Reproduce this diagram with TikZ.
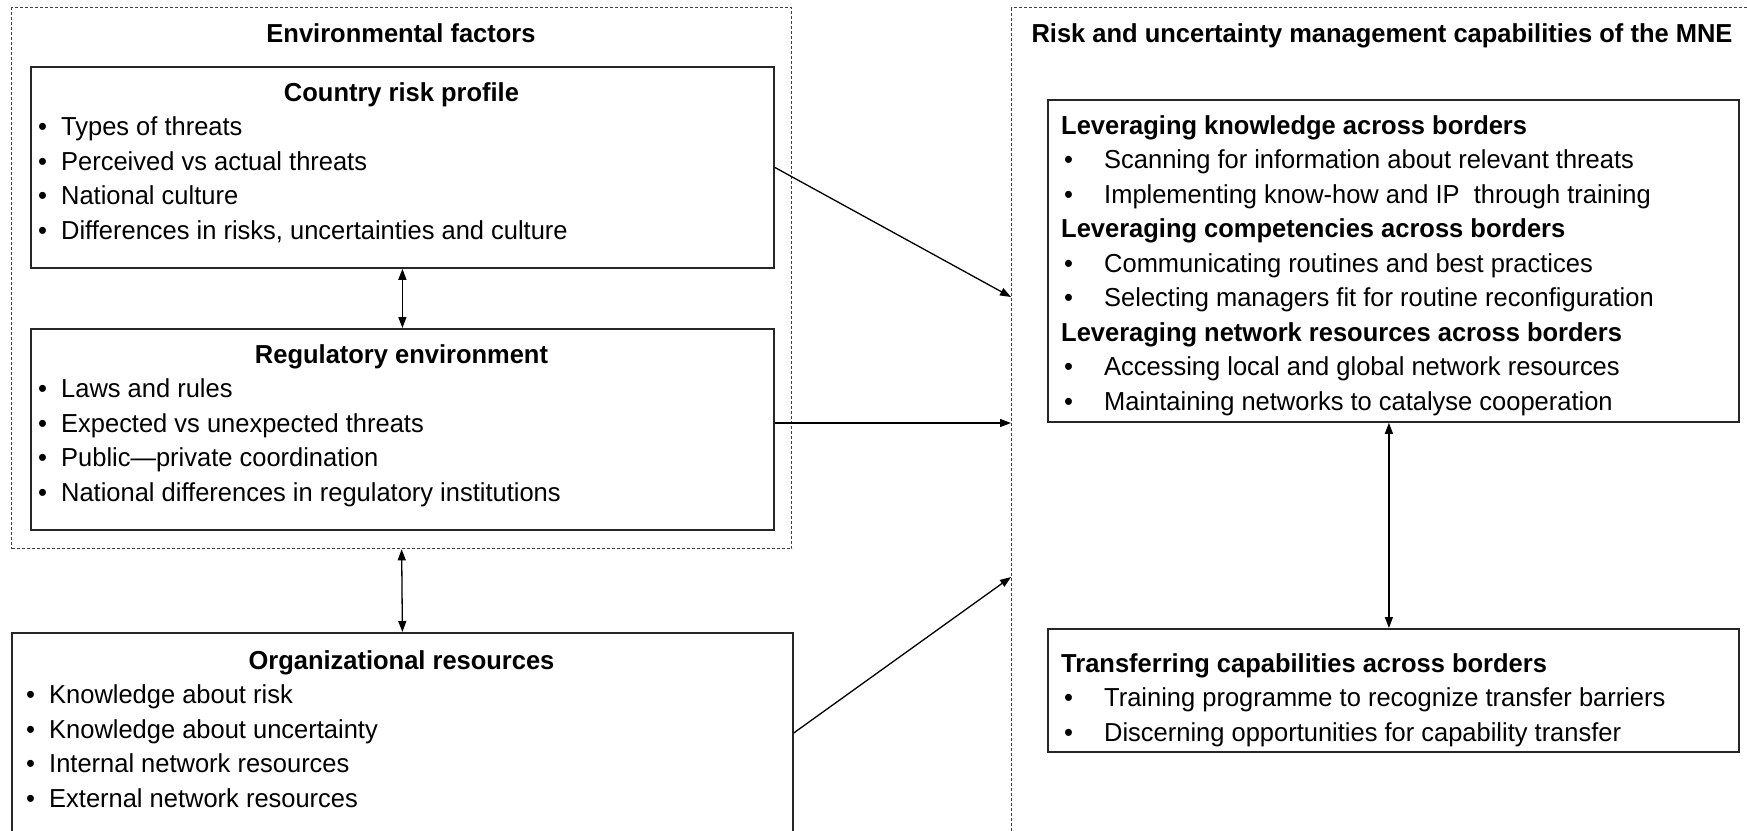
\documentclass[tikz,border=0pt]{standalone}
\usepackage{fontspec}
\setmainfont{Liberation Sans}[FakeStretch=0.98]
\usetikzlibrary{arrows.meta}

\newcommand{\maat}{\fontsize{26}{34}\selectfont}
\newcommand{\punt}[2]{\makebox[#1][l]{\textbullet}#2}

\tikzset{
  groep/.style={draw=black!75, line width=1.3pt, dash pattern=on 3pt off 2pt,
    anchor=north west, inner sep=0pt},
  kader/.style={draw=black!85, line width=1.8pt, anchor=north west, inner sep=0pt},
  kop/.style={font=\maat\bfseries, anchor=base, inner sep=0pt},
  kopl/.style={font=\maat\bfseries, anchor=base west, inner sep=0pt},
  regel/.style={font=\maat, anchor=base west, inner sep=0pt},
  pijl/.style={line width=1.3pt, -{Triangle[length=11pt,width=8pt]}},
  tweepijl/.style={line width=1.3pt,
    {Triangle[length=11pt,width=8pt]}-{Triangle[length=11pt,width=8pt]}}
}

\begin{document}
\begin{tikzpicture}[x=1pt, y=-1pt]
  \useasboundingbox (0,0) rectangle (1747,830);

  % Groepen (gestippeld)
  \node[groep, minimum width=780pt, minimum height=541pt] (env) at (11,7) {};
  \node[groep, minimum width=741pt, minimum height=838pt] (mne) at (1011,7) {};
  \node[kop] (envkop) at (401,42) {Environmental factors};
  \node[kop] (mnekop) at (1382,42) {Risk and uncertainty management capabilities of the MNE};

  % Kaders links
  \node[kader, minimum width=743pt, minimum height=201pt] (country) at (30,66) {};
  \node[kader, minimum width=743pt, minimum height=201pt] (reg) at (30,328) {};
  \node[kader, minimum width=781pt, minimum height=200pt] (org) at (11,632) {};

  \node[kop] (countrykop) at (401.5,101) {Country risk profile};
  \foreach \t [count=\i] in {Types of threats, Perceived vs actual threats,
      National culture, {Differences in risks, uncertainties and culture}}
    \node[regel] (country\i) at (38,101+34.5*\i) {\punt{23pt}{\t}};

  \node[kop] (regkop) at (401.5,363) {Regulatory environment};
  \foreach \t [count=\i] in {Laws and rules, Expected vs unexpected threats,
      Public—private coordination, National differences in regulatory institutions}
    \node[regel] (reg\i) at (38,363+34.5*\i) {\punt{23pt}{\t}};

  \node[kop] (orgkop) at (401.5,669) {Organizational resources};
  \foreach \t [count=\i] in {Knowledge about risk, Knowledge about uncertainty,
      Internal network resources, External network resources}
    \node[regel] (org\i) at (26,669+34.5*\i) {\punt{23pt}{\t}};

  % Kaders rechts
  \node[kader, minimum width=691pt, minimum height=322pt] (lev) at (1047,99) {};
  \node[kader, minimum width=691pt, minimum height=123pt] (trans) at (1047,628) {};

  \node[kopl] (levkop1) at (1061,134) {Leveraging knowledge across borders};
  \node[kopl] (levkop2) at (1061,237.5) {Leveraging competencies across borders};
  \node[kopl] (levkop3) at (1061,341) {Leveraging network resources across borders};
  \foreach \y/\t [count=\i] in {168.5/Scanning for information about relevant threats,
      203/{Implementing know-how and IP\ \ through training},
      272/Communicating routines and best practices,
      306.5/Selecting managers fit for routine reconfiguration,
      375.5/Accessing local and global network resources,
      410/Maintaining networks to catalyse cooperation}
    \node[regel] (lev\i) at (1064,\y) {\punt{40pt}{\t}};

  \node[kopl] (transkop) at (1061,672) {Transferring capabilities across borders};
  \foreach \t [count=\i] in {Training programme to recognize transfer barriers,
      Discerning opportunities for capability transfer}
    \node[regel] (trans\i) at (1064,672+34.5*\i) {\punt{40pt}{\t}};

  % Pijlen
  \coordinate (in1) at (1011,297);
  \coordinate (in2) at (1011,423);
  \coordinate (in3) at (1011,577);
  \draw[tweepijl] (country.south) -- (reg.north);
  \draw[tweepijl] (env.south) -- (org.north);
  \draw[tweepijl] ([xshift=-4.5pt]lev.south) -- ([xshift=-4.5pt]trans.north);
  \draw[pijl] (country.east) -- (in1);
  \draw[pijl] (reg.east |- in2) -- (in2);
  \draw[pijl] (org.east) -- (in3);
\end{tikzpicture}
\end{document}
